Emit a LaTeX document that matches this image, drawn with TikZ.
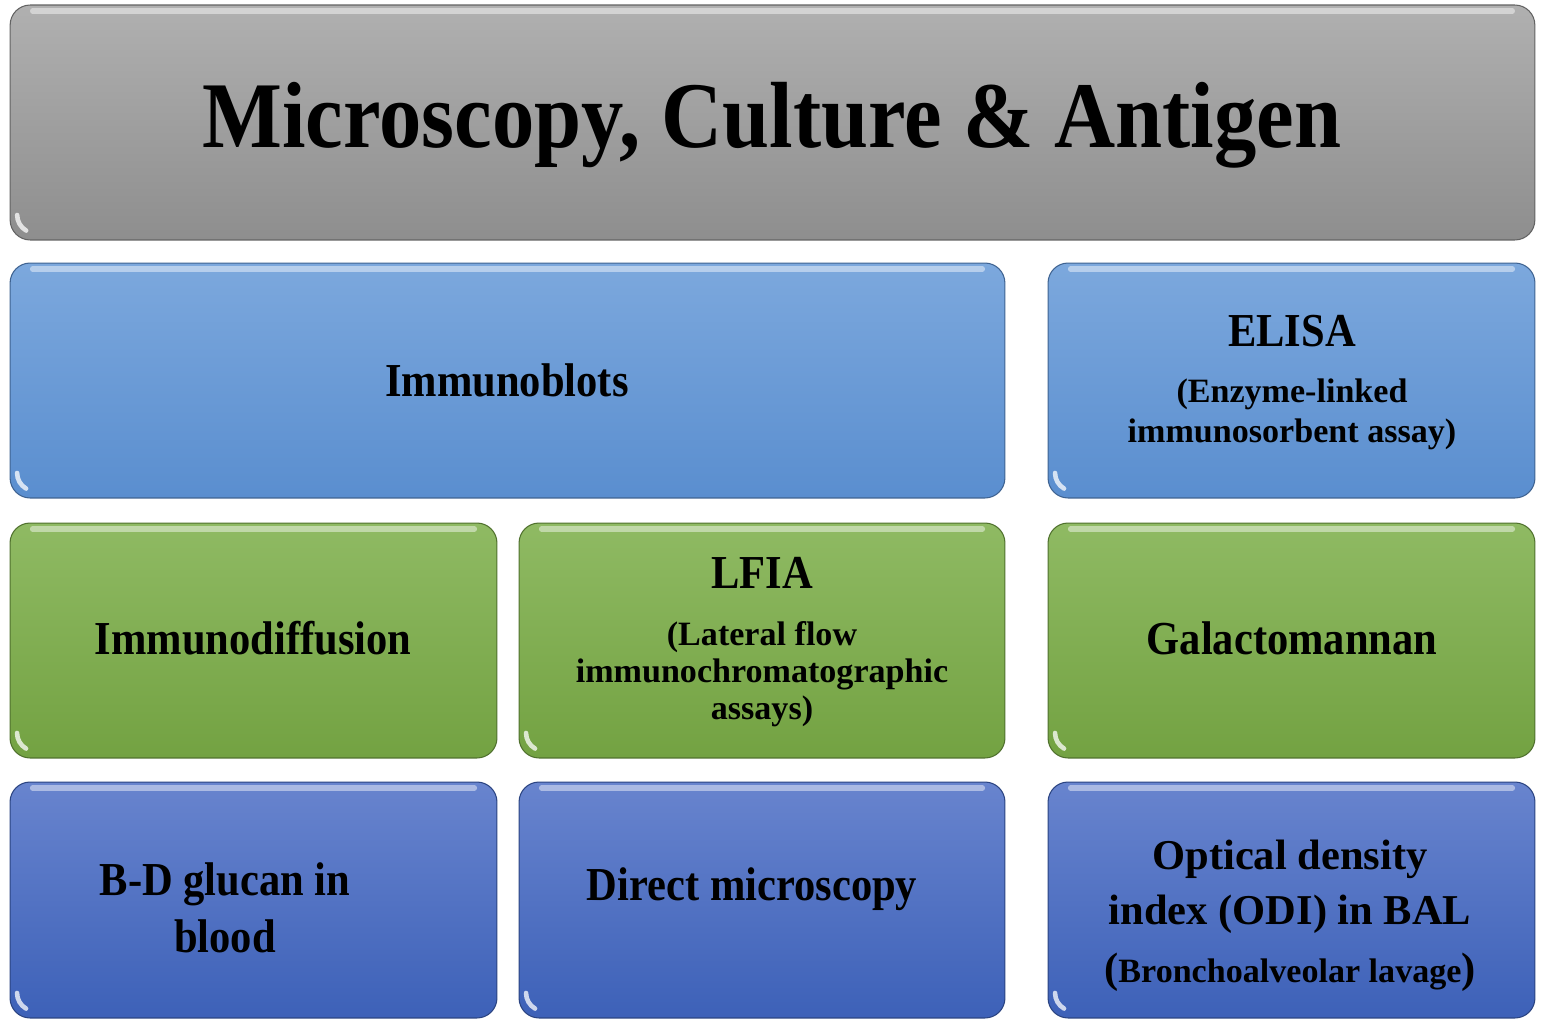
\documentclass[tikz,border=0pt]{standalone}
\usepackage{fontspec}
\setmainfont{Liberation Serif}
\newfontfamily\condfont{Liberation Serif}[FakeStretch=0.9]
\definecolor{grayT}{HTML}{B0B0B0}
\definecolor{grayB}{HTML}{8E8E8E}
\definecolor{lbT}{HTML}{7CA8DD}
\definecolor{lbB}{HTML}{5A8ECF}
\definecolor{grT}{HTML}{8FBA63}
\definecolor{grB}{HTML}{73A242}
\definecolor{dbT}{HTML}{6884CE}
\definecolor{dbB}{HTML}{3D61B8}
\tikzset{
  tile/.style={rectangle, rounded corners=0.4cm, inner sep=0pt, outer sep=0pt, draw=#1!70!black, line width=0.6pt},
  graytile/.style={tile=grayB, top color=grayT, bottom color=grayB},
  lbtile/.style={tile=lbB, top color=lbT, bottom color=lbB},
  grtile/.style={tile=grB, top color=grT, bottom color=grB},
  dbtile/.style={tile=dbB, top color=dbT, bottom color=dbB},
  titletext/.style={anchor=base, inner sep=0pt, font=\condfont\bfseries\fontsize{53.5}{60}\selectfont},
  headtext/.style={anchor=base, inner sep=0pt, font=\condfont\bfseries\fontsize{26.9}{30}\selectfont},
  bigtext/.style={anchor=base, inner sep=0pt, font=\bfseries\fontsize{24.2}{28}\selectfont},
  subtext/.style={anchor=base, inner sep=0pt, font=\bfseries\fontsize{19.4}{22}\selectfont},
  gloss/.style={white, opacity=0.45, line width=3pt, line cap=round},
}
\begin{document}
\begin{tikzpicture}[x=0.02cm, y=-0.02cm]
\useasboundingbox (0,0) rectangle (1542,1028);
% tiles
\node[graytile, minimum width=30.5cm, minimum height=4.7cm] (title) at (772.5,122.5) {};
\node[lbtile, minimum width=19.9cm, minimum height=4.7cm] (blots) at (507.5,380.5) {};
\node[lbtile, minimum width=9.74cm, minimum height=4.7cm] (elisa) at (1291.5,380.5) {};
\node[grtile, minimum width=9.74cm, minimum height=4.7cm] (diff) at (253.5,640.5) {};
\node[grtile, minimum width=9.72cm, minimum height=4.7cm] (lfia) at (762,640.5) {};
\node[grtile, minimum width=9.74cm, minimum height=4.7cm] (galac) at (1291.5,640.5) {};
\node[dbtile, minimum width=9.74cm, minimum height=4.72cm] (glucan) at (253.5,900) {};
\node[dbtile, minimum width=9.72cm, minimum height=4.72cm] (direct) at (762,900) {};
\node[dbtile, minimum width=9.74cm, minimum height=4.72cm] (odi) at (1291.5,900) {};
% gloss highlights
\foreach \n in {title,blots,elisa,diff,lfia,galac,glucan,direct,odi}{
  \draw[gloss] ([xshift=0.45cm,yshift=-0.12cm]\n.north west) -- ([xshift=-0.45cm,yshift=-0.12cm]\n.north east);
  \draw[gloss, line width=2.6pt, opacity=0.75] ([xshift=0.14cm,yshift=0.5cm]\n.south west) arc[start angle=180, end angle=240, radius=0.36cm];
}
% texts
\node[titletext] (t0) at (772,147) {Microscopy, Culture \& Antigen};
\node[headtext] (t1) at (507,396) {Immunoblots};
\node[headtext] (t2) at (1292,346) {ELISA};
\node[subtext] (t3) at (1292,402) {(Enzyme-linked};
\node[subtext] (t4) at (1292,442) {immunosorbent assay)};
\node[headtext] (t5) at (253,654) {Immunodiffusion};
\node[headtext] (t6) at (762,588) {LFIA};
\node[subtext] (t7) at (762,645) {(Lateral flow};
\node[subtext] (t8) at (762,682) {immunochromatographic};
\node[subtext] (t9) at (762,719) {assays)};
\node[headtext] (t10) at (1292,654) {Galactomannan};
\node[headtext] (t11) at (225,895) {B-D glucan in};
\node[headtext] (t12) at (225,952) {blood};
\node[headtext] (t13) at (752,900) {Direct microscopy};
\node[bigtext] (t14) at (1290,869) {Optical density};
\node[bigtext] (t15) at (1290,924) {index (ODI) in BAL};
\node[subtext] (t16) at (1290,982) {{\fontsize{24.2}{28}\selectfont(}Bronchoalveolar lavage{\fontsize{24.2}{28}\selectfont)}};
\end{tikzpicture}
\end{document}
